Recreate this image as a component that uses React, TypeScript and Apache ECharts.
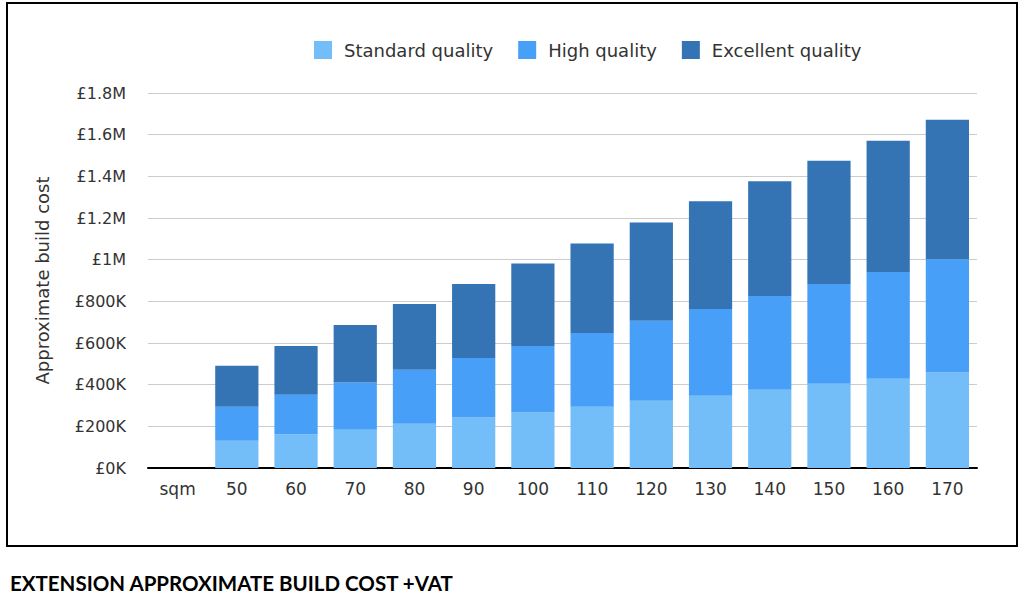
import React, { useEffect, useRef } from "react";
import * as echarts from "echarts";

const categories = ["sqm", "50", "60", "70", "80", "90", "100", "110", "120", "130", "140", "150", "160", "170"];
const standardQuality = [null, 131, 162, 184, 213, 243, 266, 294, 323, 347, 376, 405, 429, 458];
const highQuality = [null, 163, 190, 226, 259, 285, 320, 354, 384, 416, 450, 478, 512, 544];
const excellentQuality = [null, 197, 234, 276, 315, 355, 396, 430, 472, 517, 550, 592, 630, 670];
const seriesNames = ["Standard quality", "High quality", "Excellent quality"];
const colors = ["#73bef8", "#479ff8", "#3474b5"];

const FONT = "DejaVu Sans";

function fmt(v: number): string {
  if (v === 0) return "£0K";
  if (v < 1000000) return "£" + v / 1000 + "K";
  return "£" + v / 1000000 + "M";
}

export default function App() {
  const ref = useRef<HTMLDivElement>(null);
  useEffect(() => {
    document.body.style.margin = "0";
    const chart = echarts.init(ref.current!, null, { renderer: "svg" });
    const toVals = (arr: (number | null)[]) => arr.map((v) => (v == null ? "-" : v * 1000));
    const datasets = [standardQuality, highQuality, excellentQuality];
    chart.setOption({
      animation: false,
      color: colors,
      textStyle: { fontFamily: FONT },
      legend: {
        left: 309,
        top: 36,
        itemWidth: 18,
        itemHeight: 18,
        itemGap: 25,
        icon: "rect",
        textStyle: { fontFamily: FONT, fontSize: 18, color: "#333", padding: [0, 0, 0, 7] },
        data: seriesNames,
      },
      grid: { left: 148, right: 47, top: 93, bottom: 144, containLabel: false },
      xAxis: {
        type: "category",
        data: categories,
        axisLine: { lineStyle: { color: "#000", width: 2 } },
        axisTick: { show: false },
        axisLabel: { fontFamily: FONT, fontSize: 17, color: "#333", margin: 12 },
      },
      yAxis: {
        type: "value",
        min: 0,
        max: 1800000,
        interval: 200000,
        name: "Approximate build cost",
        nameLocation: "middle",
        nameGap: 97,
        nameTextStyle: { fontFamily: FONT, fontSize: 18, color: "#333" },
        axisLine: { show: false },
        axisTick: { show: false },
        splitLine: { lineStyle: { color: "#cccccc", width: 1 } },
        axisLabel: { fontFamily: FONT, fontSize: 16, color: "#333", margin: 22, formatter: fmt },
      },
      series: datasets.map((d, i) => ({
        name: seriesNames[i],
        type: "bar",
        stack: "total",
        barWidth: "73%",
        data: toVals(d),
        itemStyle: { color: colors[i] },
      })),
      graphic: [
        {
          type: "rect",
          shape: { x: 7, y: 3, width: 1010, height: 543 },
          style: { fill: "none", stroke: "#000", lineWidth: 2 },
          silent: true,
        },
        {
          type: "text",
          left: 10,
          top: 572,
          style: {
            text: "EXTENSION APPROXIMATE BUILD COST +VAT",
            fontFamily: "Lato",
            fontWeight: "bold",
            fontSize: 20.5,
            fill: "#000",
          },
        },
      ],
    });
    return () => chart.dispose();
  }, []);
  return <div ref={ref} style={{ width: 1024, height: 612 }} />;
}
